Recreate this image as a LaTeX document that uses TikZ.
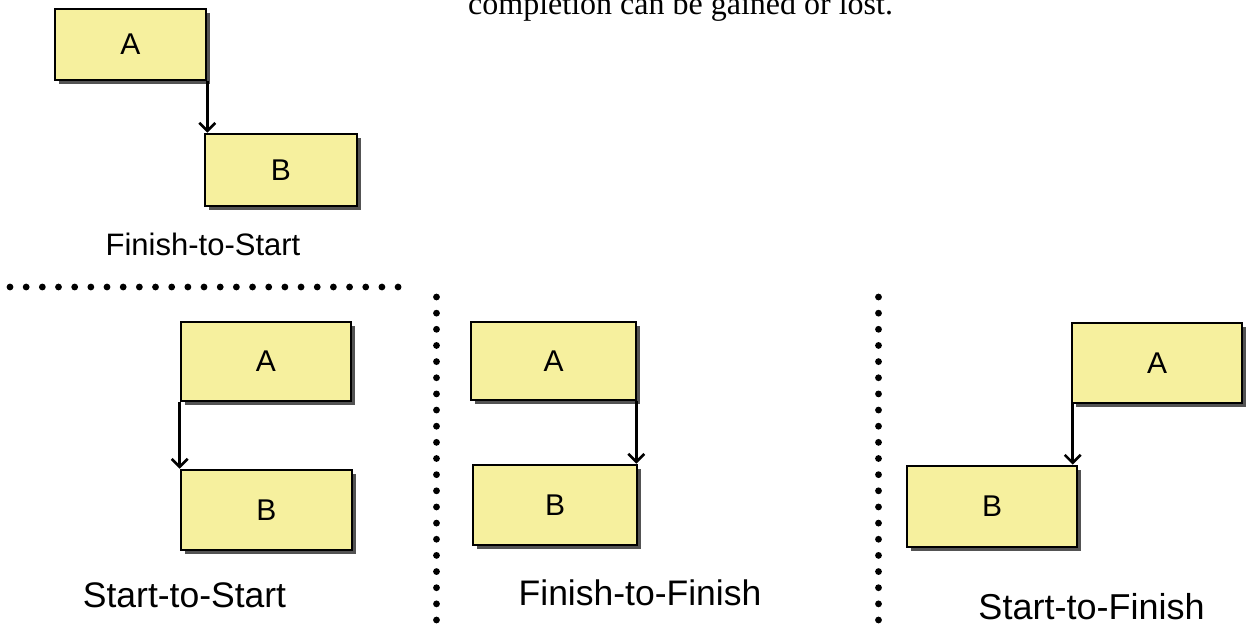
\documentclass[tikz,border=0pt]{standalone}
\usepackage{fontspec}
\setmainfont{Liberation Sans}
\newfontfamily\serifface{Liberation Serif}
\usetikzlibrary{arrows.meta,shadows}
\definecolor{boxyellow}{RGB}{246,240,158}
\tikzset{
  taskbox/.style={draw=black, line width=2.6pt, fill=boxyellow, inner sep=0pt,
    font=\fontsize{30}{34}\selectfont,
    drop shadow={shadow xshift=4pt, shadow yshift=-4pt, fill=black!75, opacity=0.9}},
  deparrow/.style={line width=2.6pt, -{Straight Barb[length=8pt,width=16pt,line width=2.6pt]}},
  caption/.style={inner sep=0pt, anchor=base},
  sepdot/.style={fill=black}
}
\begin{document}
\begin{tikzpicture}[x=1pt,y=-1pt]
\useasboundingbox (0,0) rectangle (1249,624);
% top text
\node[inner sep=0pt, anchor=base west, font=\serifface\fontsize{32}{38}\selectfont] (toptext) at (468,14) {completion can be gained or lost.};
% Finish-to-Start
\node[taskbox, minimum width=151pt, minimum height=71pt] (fsA) at (130.5,44.5) {A};
\node[taskbox, minimum width=152pt, minimum height=72pt] (fsB) at (281,170) {B};
\draw[deparrow] (fsA.south east) -- (fsA.south east |- fsB.north);
\node[caption, font=\fontsize{31}{36}\selectfont] (fsL) at (203,255) {Finish-to-Start};
% Start-to-Start
\node[taskbox, minimum width=170pt, minimum height=79pt] (ssA) at (266,361.5) {A};
\node[taskbox, minimum width=171pt, minimum height=80pt] (ssB) at (266.5,510) {B};
\draw[deparrow] (ssA.south west) -- (ssA.south west |- ssB.north);
\node[caption, font=\fontsize{35.5}{40}\selectfont] (ssL) at (184.5,607) {Start-to-Start};
% Finish-to-Finish
\node[taskbox, minimum width=165pt, minimum height=78pt] (ffA) at (553.5,361) {A};
\node[taskbox, minimum width=164pt, minimum height=80pt] (ffB) at (555,505) {B};
\draw[deparrow] ([xshift=-1pt]ffA.south east) -- ([xshift=-1pt]ffA.south east |- ffB.north);
\node[caption, font=\fontsize{35.5}{40}\selectfont] (ffL) at (640,605) {Finish-to-Finish};
% Start-to-Finish
\node[taskbox, minimum width=170pt, minimum height=80pt] (sfA) at (1157,363) {A};
\node[taskbox, minimum width=170pt, minimum height=81pt] (sfB) at (992,506.5) {B};
\draw[deparrow] ([xshift=2pt]sfA.south west) -- ([xshift=2pt]sfA.south west |- sfB.north);
\node[caption, font=\fontsize{36}{41}\selectfont] (sfL) at (1091.5,619) {Start-to-Finish};
% dotted separators
\foreach \i in {0,...,24} \fill[sepdot] (10+16.17*\i,287) circle (3.4pt);
\foreach \i in {0,...,20} \fill[sepdot] (436.5,297+16.15*\i) circle (3.4pt);
\foreach \i in {0,...,20} \fill[sepdot] (878.5,297+16.15*\i) circle (3.4pt);
\end{tikzpicture}
\end{document}
